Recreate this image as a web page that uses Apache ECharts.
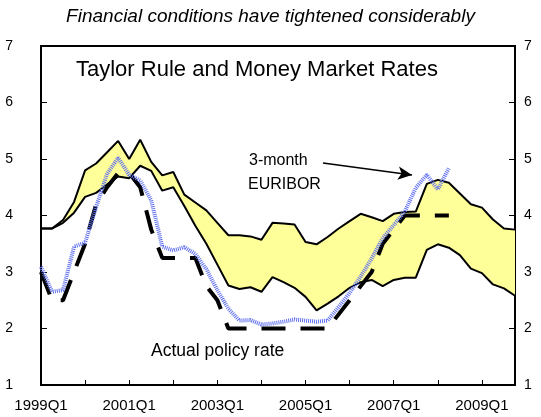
<!DOCTYPE html>
<html>
<head>
<meta charset="utf-8">
<script src="https://cdn.jsdelivr.net/npm/echarts@6/dist/echarts.min.js"></script>
<style>
html,body{margin:0;padding:0;background:#fff;}
#chart{width:541px;height:417px;}
</style>
</head>
<body>
<div id="chart"></div>
<script>
// Quarterly categories 1999Q1 .. 2009Q4
const categories = [
 '1999Q1','1999Q2','1999Q3','1999Q4','2000Q1','2000Q2','2000Q3','2000Q4',
 '2001Q1','2001Q2','2001Q3','2001Q4','2002Q1','2002Q2','2002Q3','2002Q4',
 '2003Q1','2003Q2','2003Q3','2003Q4','2004Q1','2004Q2','2004Q3','2004Q4',
 '2005Q1','2005Q2','2005Q3','2005Q4','2006Q1','2006Q2','2006Q3','2006Q4',
 '2007Q1','2007Q2','2007Q3','2007Q4','2008Q1','2008Q2','2008Q3','2008Q4',
 '2009Q1','2009Q2','2009Q3','2009Q4'
];
// Level Taylor rule band (upper and lower bounds)
const ruleUpper = [3.77,3.77,3.92,4.24,4.80,4.92,5.12,5.32,5.00,5.34,4.95,4.71,4.77,4.37,4.23,4.09,
 3.87,3.65,3.65,3.63,3.57,3.87,3.86,3.84,3.53,3.49,3.62,3.77,3.90,4.03,3.97,3.90,
 4.03,4.06,4.07,4.56,4.63,4.58,4.39,4.20,4.14,3.93,3.77,3.75];
const ruleLower = [3.77,3.77,3.87,4.05,4.33,4.40,4.55,4.69,4.66,4.88,4.79,4.44,4.50,4.17,3.82,3.50,
 3.13,2.76,2.70,2.73,2.65,2.91,2.82,2.72,2.56,2.32,2.44,2.57,2.72,2.82,2.86,2.75,
 2.86,2.90,2.90,3.39,3.49,3.43,3.30,3.06,2.98,2.78,2.71,2.58];
// 3-month EURIBOR
const euribor = [3.09,2.65,2.68,3.45,3.52,4.15,4.74,5.02,4.72,4.62,4.27,3.45,3.38,3.44,3.32,3.05,
 2.68,2.35,2.14,2.15,2.07,2.09,2.12,2.16,2.14,2.12,2.14,2.38,2.63,2.92,3.24,3.60,
 3.83,4.07,4.49,4.72,4.46,4.84];
// Actual policy rate
const policy = [3.0,2.5,2.5,3.0,3.5,4.2,4.5,4.75,4.75,4.5,3.75,3.25,3.25,3.25,3.25,2.75,
 2.5,2.0,2.0,2.0,2.0,2.0,2.0,2.0,2.0,2.0,2.0,2.25,2.5,2.75,3.0,3.5,
 3.75,4.0,4.0,4.0,4.0,4.0];
const yTicks = {min:1, max:7, step:1};

const bandWidth = ruleUpper.map((u,i)=> +(u - ruleLower[i]).toFixed(3));
const FONT = 'Liberation Sans, Arial, sans-serif';

const chart = echarts.init(document.getElementById('chart'), null, {renderer:'canvas'});
const yAxisBase = (pos, margin) => ({
  type:'value', position:pos, min:yTicks.min, max:yTicks.max, interval:yTicks.step,
  axisLine:{show:true, lineStyle:{color:'#000', width:2}},
  axisTick:{show:true, inside:true, length:6, lineStyle:{color:'#000', width:1}},
  axisLabel:{color:'#000', fontSize:14, fontFamily:FONT, margin:margin},
  splitLine:{show:false}
});
chart.setOption({
  animation:false,
  backgroundColor:'#fff',
  grid:{left:41, right:26, top:46, bottom:32, show:true, borderColor:'#000', borderWidth:2, backgroundColor:'transparent'},
  xAxis:{
    type:'category', data:categories, boundaryGap:false,
    axisLine:{lineStyle:{color:'#000', width:2}},
    axisTick:{inside:true, interval:3, length:5, lineStyle:{color:'#000', width:1}},
    axisLabel:{interval:7, color:'#000', fontSize:15, fontFamily:FONT, margin:13},
    splitLine:{show:false}
  },
  yAxis:[yAxisBase('left', 28), yAxisBase('right', 9)],
  series:[
    {name:'lower', type:'line', data:ruleLower, stack:'band', symbol:'none', z:3,
     lineStyle:{color:'#000', width:2}},
    {name:'band', type:'line', data:bandWidth, stack:'band', symbol:'none', z:2,
     lineStyle:{color:'#000', width:2}, areaStyle:{color:'#ffff99', opacity:1}},
    {name:'Actual policy rate', type:'line', data:policy, symbol:'none', z:4,
     lineStyle:{color:'#000', width:4, type:[24,15], cap:'butt'}},
    {name:'3-month EURIBOR', type:'line', data:euribor, symbol:'none', z:5,
     lineStyle:{color:'#6070ee', width:4, type:[1,1]},
     markLine:{silent:true, symbol:['none','arrow'], symbolSize:[10,14], label:{show:false},
       lineStyle:{color:'#000', width:1.5, type:'solid'},
       data:[[{x:323, y:163},{x:412, y:175}]]}}
  ],
  graphic:[
    {type:'text', left:'center', top:7, style:{text:'Financial conditions have tightened considerably', font:'italic 19px '+FONT, fill:'#000'}},
    {type:'text', left:76, top:59, style:{text:'Taylor Rule and Money Market Rates', font:'22px '+FONT, fill:'#000'}},
    {type:'text', left:249, top:153, style:{text:'3-month', font:'16px '+FONT, fill:'#000'}},
    {type:'text', left:248, top:177, style:{text:'EURIBOR', font:'16px '+FONT, fill:'#000'}},
    {type:'text', left:244, top:259, style:{text:'Level rule 1/', font:'17px '+FONT, fill:'#000'}},
    {type:'text', left:151, top:342, style:{text:'Actual policy rate', font:'17.5px '+FONT, fill:'#000'}}
  ]
});
</script>
</body>
</html>
